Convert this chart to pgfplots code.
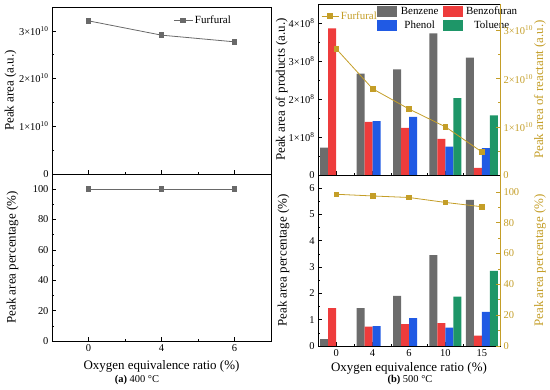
\documentclass[border=0pt]{standalone}
\usepackage{pgfplots}
\pgfplotsset{compat=1.18}
\usepackage{fontspec}
\setmainfont{Liberation Serif}
\definecolor{cbenz}{RGB}{108,108,108}
\definecolor{cfuran}{RGB}{238,60,60}
\definecolor{cphen}{RGB}{32,90,228}
\definecolor{ctol}{RGB}{30,150,104}
\definecolor{cgold}{RGB}{196,158,40}
\definecolor{cline}{RGB}{105,105,105}
\begin{document}
\begin{tikzpicture}
\useasboundingbox (0,0) rectangle (550bp,-390bp);
\pgfplotsset{
  base/.style={scale only axis, axis line style={black, line width=0.6pt},
    tick style={black, line width=0.6pt}, tick align=inside,
    major tick length=4bp, minor tick length=2.2bp,
    ticklabel style={font=\fontsize{10.5}{11}\selectfont},
    label style={font=\fontsize{13}{14}\selectfont},
    scaled ticks=false,
    /pgf/number format/assume math mode=true, clip=false,
    xtick pos=bottom, ytick pos=left},
  patch/.style={legend image code/.code={\fill[##1] (0bp,-5.5bp) rectangle (20bp,5.5bp);}},
}
% ---------- (a) top ----------
\begin{axis}[base, name=atop, at={(52bp,-7bp)}, anchor=north west, width=219bp, height=167bp,
  xmin=-0.5, xmax=2.5, ymin=0, ymax=3.5e10,
  xtick={0,1,2}, xticklabel=\empty, minor xtick={0.5,1.5},
  ytick={1e10,2e10,3e10},
  yticklabels={1×10\textsuperscript{10},2×10\textsuperscript{10},3×10\textsuperscript{10}},
  minor ytick={0.5e10,1.5e10,2.5e10},
  ylabel={Peak area (a.u.)},
  ylabel style={at={(axis description cs:-0.19,0.5)}, anchor=center},
  legend style={draw=none, fill=none, at={(0.54,0.92)}, anchor=west,
    font=\fontsize{11}{12}\selectfont},
  legend image post style={xscale=1.1}]
\addplot[color=cline, line width=0.8pt, mark=square*, mark size=2.3bp] coordinates {(0,3.21e10) (1,2.91e10) (2,2.77e10)};
\addlegendentry{Furfural}
\end{axis}
% ---------- (a) bottom ----------
\begin{axis}[base, at={(52bp,-174bp)}, anchor=north west, width=219bp, height=167bp,
  xmin=-0.5, xmax=2.5, ymin=0, ymax=110,
  xtick={0,1,2}, xticklabels={0,4,6}, minor xtick={0.5,1.5},
  ytick={0,20,40,60,80,100}, minor ytick={10,30,50,70,90},
  ylabel={Peak area percentage (\%)},
  ylabel style={at={(axis description cs:-0.18,0.5)}, anchor=center},
  xlabel={Oxygen equivalence ratio (\%)},
  xlabel style={yshift=-2bp}]
\addplot[color=cline, line width=0.8pt, mark=square*, mark size=2.3bp] coordinates {(0,100) (1,100) (2,100)};
\end{axis}
% ---------- (b) top bars ----------
\begin{axis}[base, name=btop, at={(318bp,-4bp)}, anchor=north west, width=182bp, height=171bp,
  xmin=-0.5, xmax=4.5, ymin=0, ymax=4.5e8,
  xtick={0,1,2,3,4}, xticklabel=\empty, minor xtick={0.5,1.5,2.5,3.5},
  ytick={1e8,2e8,3e8,4e8},
  yticklabels={1×10\textsuperscript{8},2×10\textsuperscript{8},3×10\textsuperscript{8},4×10\textsuperscript{8}},
  minor ytick={0.5e8,1.5e8,2.5e8,3.5e8},
  ylabel={Peak area of products (a.u.)},
  ylabel style={at={(axis description cs:-0.2,0.5)}, anchor=center},
  legend columns=2,
  legend style={draw=none, fill=none, at={(0.325,0.995)}, anchor=north west,
    font=\fontsize{11}{12}\selectfont, inner sep=0pt, row sep=1bp,
    /tikz/every even column/.append style={column sep=2bp},
    /tikz/every odd column/.append style={column sep=1.5bp}}]
\addplot[patch, ybar, bar width=8bp, bar shift=-12bp, fill=cbenz, draw=none] coordinates {(0,0.72e8) (1,2.67e8) (2,2.78e8) (3,3.73e8) (4,3.09e8)};
\addlegendentry{Benzene}
\addplot[patch, ybar, bar width=8bp, bar shift=-4bp, fill=cfuran, draw=none] coordinates {(0,3.86e8) (1,1.40e8) (2,1.24e8) (3,0.95e8) (4,0.19e8)};
\addlegendentry{Benzofuran}
\addplot[patch, ybar, bar width=8bp, bar shift=4bp, fill=cphen, draw=none] coordinates {(1,1.42e8) (2,1.53e8) (3,0.75e8) (4,0.71e8)};
\addlegendentry{Phenol}
\addplot[patch, ybar, bar width=8bp, bar shift=12bp, fill=ctol, draw=none] coordinates {(3,2.02e8) (4,1.57e8)};
\addlegendentry{Toluene}
\end{axis}
% ---------- (b) top right axis ----------
\begin{axis}[base, at={(318bp,-4bp)}, anchor=north west, width=182bp, height=171bp,
  xmin=-0.5, xmax=4.5, ymin=0, ymax=3.55e10,
  axis x line=none, axis y line*=right, ytick pos=right,
  y axis line style={cgold, line width=0.6pt}, ytick style={cgold},
  yticklabel style={text=cgold},
  ytick={1e10,2e10,3e10},
  yticklabels={1×10\textsuperscript{10},2×10\textsuperscript{10},3×10\textsuperscript{10}},
  minor ytick={0.5e10,1.5e10,2.5e10},
  ylabel={Peak area of reactant (a.u.)},
  ylabel style={text=cgold, at={(axis description cs:1.22,0.5)}, anchor=center, rotate=0},
  legend style={draw=none, fill=none, at={(0.0,0.93)}, anchor=west,
    font=\fontsize{11}{12}\selectfont}]
\addplot[color=cgold, line width=0.8pt, mark=square*, mark size=2.3bp] coordinates {(0,2.62e10) (1,1.79e10) (2,1.37e10) (3,1.00e10) (4,0.48e10)};
\addlegendentry{\textcolor{cgold}{Furfural}}
\end{axis}
% ---------- (b) bottom bars ----------
\begin{axis}[base, at={(318bp,-175bp)}, anchor=north west, width=182bp, height=171bp,
  xmin=-0.5, xmax=4.5, ymin=0, ymax=6.5,
  xtick={0,1,2,3,4}, xticklabels={0,4,6,10,15}, minor xtick={0.5,1.5,2.5,3.5},
  ytick={0,1,2,3,4,5,6}, minor ytick={0.5,1.5,2.5,3.5,4.5,5.5},
  ylabel={Peak area percentage (\%)},
  ylabel style={at={(axis description cs:-0.19,0.5)}, anchor=center},
  xlabel={Oxygen equivalence ratio (\%)},
  xlabel style={yshift=1bp}]
\addplot[ybar, bar width=8bp, bar shift=-12bp, fill=cbenz, draw=none] coordinates {(0,0.26) (1,1.44) (2,1.91) (3,3.45) (4,5.55)};
\addplot[ybar, bar width=8bp, bar shift=-4bp, fill=cfuran, draw=none] coordinates {(0,1.44) (1,0.74) (2,0.83) (3,0.87) (4,0.39)};
\addplot[ybar, bar width=8bp, bar shift=4bp, fill=cphen, draw=none] coordinates {(1,0.76) (2,1.06) (3,0.70) (4,1.30)};
\addplot[ybar, bar width=8bp, bar shift=12bp, fill=ctol, draw=none] coordinates {(3,1.88) (4,2.86)};
\end{axis}
% ---------- (b) bottom right axis ----------
\begin{axis}[base, at={(318bp,-175bp)}, anchor=north west, width=182bp, height=171bp,
  xmin=-0.5, xmax=4.5, ymin=0, ymax=111,
  axis x line=none, axis y line*=right, ytick pos=right,
  y axis line style={cgold, line width=0.6pt}, ytick style={cgold},
  yticklabel style={text=cgold},
  ytick={0,20,40,60,80,100}, minor ytick={10,30,50,70,90},
  ylabel={Peak area percentage (\%)},
  ylabel style={text=cgold, at={(axis description cs:1.22,0.5)}, anchor=center, rotate=0}]
\addplot[color=cgold, line width=0.8pt, mark=square*, mark size=2.3bp] coordinates {(0,98.5) (1,97.4) (2,96.4) (3,93.2) (4,90.4)};
\end{axis}
\node[anchor=east, font=\fontsize{10.5}{11}\selectfont, inner sep=3.3pt] at (52bp,-174bp) {0};
\node[anchor=east, font=\fontsize{10.5}{11}\selectfont, inner sep=3.3pt] at (318bp,-175bp) {0};
\node[anchor=west, text=cgold, font=\fontsize{10.5}{11}\selectfont, inner sep=3.3pt] at (500bp,-175bp) {0};
\node[font=\fontsize{10.5}{11}\selectfont] at (137bp,-380bp) {\textbf{(a)} 400 °C};
\node[font=\fontsize{10.5}{11}\selectfont] at (410bp,-380bp) {\textbf{(b)} 500 °C};
\end{tikzpicture}
\end{document}
